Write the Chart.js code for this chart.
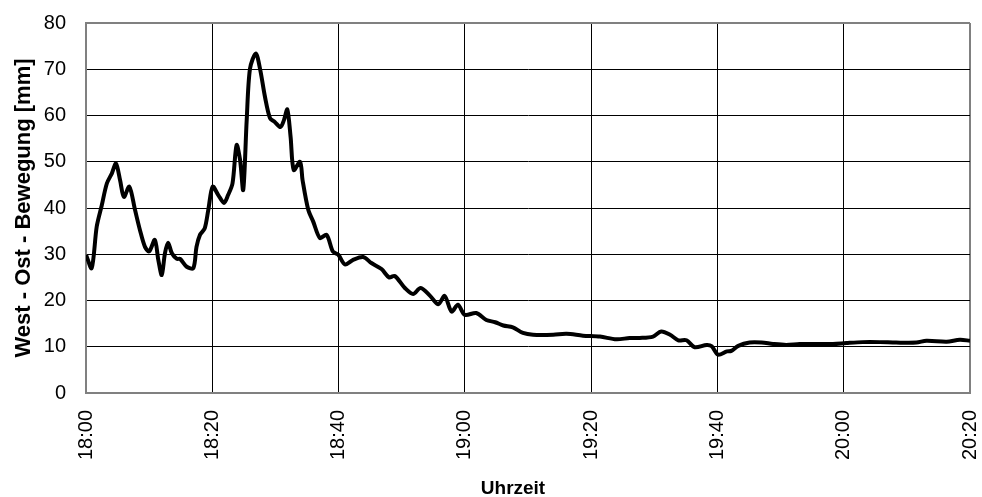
<!DOCTYPE html>
<html>
<head>
<meta charset="utf-8">
<script src="https://cdn.jsdelivr.net/npm/chart.js@4.4.0/dist/chart.umd.min.js"></script>
<style>
  html, body { margin: 0; padding: 0; background: #fff; }
  #wrap { width: 982px; height: 497px; }
</style>
</head>
<body>
<div id="wrap"><canvas id="chart" width="982" height="497"></canvas></div>
<script>
// minutes after 18:00
const minutes = [0, 0.9, 1.7, 2.5, 3.3, 4.1, 4.75, 5.4, 6.0, 6.86, 7.76, 8.55, 9.34, 10.0, 10.9, 11.45, 12.0, 12.5, 13.0, 13.6, 14.4, 14.9, 15.95, 17.0, 17.5, 18.05, 18.8, 19.37, 20.06, 20.95, 21.85, 22.5, 23.2, 23.85, 24.4, 24.9, 25.45, 25.97, 26.9, 27.6, 28.35, 29.15, 29.9, 30.8, 31.35, 31.88, 32.4, 32.9, 33.9, 34.3, 35.2, 36.0, 37.05, 38.1, 39.1, 39.95, 41.0, 42.3, 43.9, 45.2, 46.8, 48.0, 48.9, 50.5, 51.8, 53.0, 54.5, 55.8, 56.8, 57.9, 58.9, 60.0, 61.8, 63.4, 64.8, 66.1, 67.6, 69.2, 70.8, 74.0, 76.1, 78.7, 81.4, 84.0, 86.1, 87.7, 89.8, 91.1, 92.5, 93.8, 95.1, 96.4, 98.3, 99.1, 100.1, 101.5, 102.2, 103.3, 105.1, 107.0, 108.8, 110.9, 113.0, 115.1, 118.3, 120.4, 123.0, 125.7, 128.3, 131.5, 133.1, 136.3, 138.4, 140];
// West-Ost-Bewegung [mm]
const movement = [29.9, 27.0, 36.0, 40.6, 45.3, 47.5, 49.6, 46.0, 42.4, 44.6, 39.6, 35.2, 31.6, 30.6, 33.1, 28.8, 25.5, 30.2, 32.5, 30.2, 29.0, 29.0, 27.3, 27.0, 31.6, 34.2, 35.6, 39.6, 44.6, 42.8, 41.1, 42.8, 45.3, 53.6, 50.4, 43.9, 59.0, 70.1, 73.4, 69.8, 64.0, 59.4, 58.6, 57.5, 59.0, 61.3, 55.4, 48.2, 50.0, 46.0, 39.6, 37.0, 33.5, 34.2, 30.6, 29.9, 27.8, 28.8, 29.4, 28.1, 26.8, 25.0, 25.3, 22.7, 21.4, 22.7, 21.0, 19.2, 21.0, 17.6, 19.1, 16.9, 17.3, 15.8, 15.3, 14.6, 14.2, 13.0, 12.6, 12.6, 12.8, 12.4, 12.2, 11.6, 11.9, 11.9, 12.2, 13.3, 12.6, 11.4, 11.4, 9.9, 10.4, 10.1, 8.3, 9.0, 9.1, 10.2, 10.9, 10.9, 10.6, 10.4, 10.6, 10.6, 10.6, 10.8, 11.0, 11.0, 10.9, 10.9, 11.3, 11.1, 11.5, 11.3];
const timeLabels = ["18:00", "18:20", "18:40", "19:00", "19:20", "19:40", "20:00", "20:20"];
const yTicks = [0, 10, 20, 30, 40, 50, 60, 70, 80];

const points = minutes.map((m, i) => ({ x: m, y: movement[i] }));

const edgeColor = "#808080";

// draws the x title a bit left of centre, like the original
const xTitlePlugin = {
  id: "xTitle",
  afterDraw(chart) {
    const ctx = chart.ctx;
    const area = chart.chartArea;
    ctx.save();
    ctx.font = "bold 19px 'Liberation Sans Narrow', 'Liberation Sans'";
    ctx.fillStyle = "#000";
    ctx.textAlign = "center";
    ctx.textBaseline = "alphabetic";
    ctx.fillText("Uhrzeit", (area.left + area.right) / 2 - 15, 494);
    ctx.restore();
  },
};

new Chart(document.getElementById("chart"), {
  type: "line",
  data: {
    datasets: [
      {
        label: "West - Ost - Bewegung",
        data: points,
        borderColor: "#000",
        borderWidth: 4,
        pointRadius: 0,
        tension: 0.3,
        fill: false,
      },
    ],
  },
  options: {
    responsive: false,
    animation: false,
    layout: { padding: { top: 23, right: 12, left: 11, bottom: 0 } },
    plugins: { legend: { display: false }, tooltip: { enabled: false } },
    scales: {
      x: {
        type: "linear",
        min: 0,
        max: 140,
        afterBuildTicks: (axis) => {
          axis.ticks = timeLabels.map((_, i) => ({ value: i * 20 }));
        },
        afterFit: (axis) => {
          axis.height = 104;
          axis.paddingLeft = 0;
          axis.paddingRight = 0;
        },
        ticks: {
          autoSkip: false,
          maxRotation: 90,
          minRotation: 90,
          color: "#000",
          padding: 17,
          font: { family: "Liberation Sans", size: 20 },
          callback: (v) => timeLabels[v / 20],
        },
        grid: {
          drawTicks: false,
          color: (c) => (c.tick && (c.tick.value === 0 || c.tick.value === 140) ? edgeColor : "#000"),
          lineWidth: (c) => (c.tick && (c.tick.value === 0 || c.tick.value === 140) ? 2 : 1),
        },
        border: { color: edgeColor, width: 2 },
      },
      y: {
        min: 0,
        max: 80,
        afterBuildTicks: (axis) => {
          axis.ticks = yTicks.map((v) => ({ value: v }));
        },
        afterFit: (axis) => {
          axis.width = 75;
          axis.paddingTop = 0;
          axis.paddingBottom = 0;
        },
        ticks: {
          color: "#000",
          padding: 20,
          font: { family: "Liberation Sans", size: 20 },
        },
        grid: {
          drawTicks: false,
          color: (c) => (c.tick && (c.tick.value === 0 || c.tick.value === 80) ? edgeColor : "#000"),
          lineWidth: (c) => (c.tick && (c.tick.value === 0 || c.tick.value === 80) ? 2 : 1),
        },
        border: { color: edgeColor, width: 2 },
        title: {
          display: true,
          text: "West - Ost - Bewegung [mm]",
          color: "#000",
          font: { family: "Liberation Sans", size: 22, weight: "bold" },
          padding: { top: 0, bottom: 0 },
        },
      },
    },
  },
  plugins: [xTitlePlugin],
});
</script>
</body>
</html>
